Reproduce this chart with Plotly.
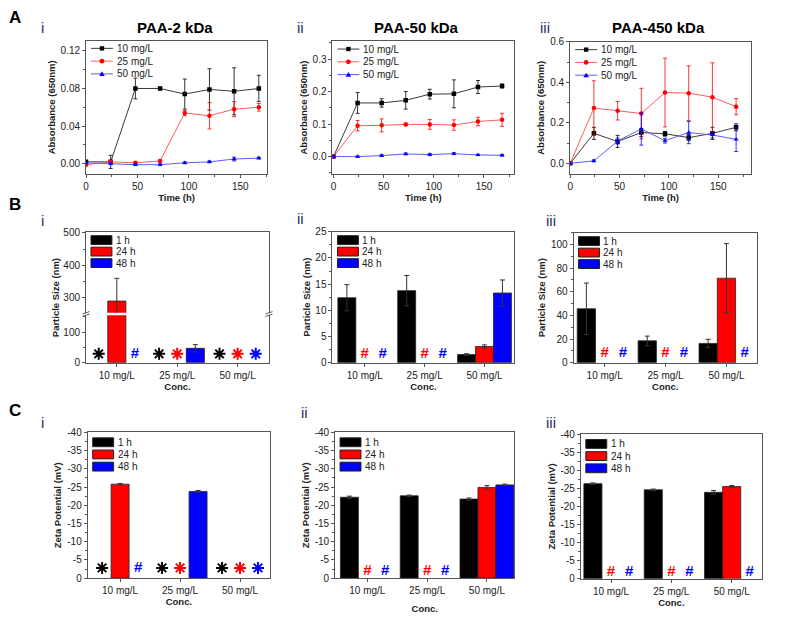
import plotly.graph_objects as go

# ---------------- data ----------------
hours = [0, 24, 48, 72, 96, 120, 144, 168]
conc = ['10 mg/L', '25 mg/L', '50 mg/L']
times = ['1 h', '24 h', '48 h']

# A: absorbance at 650 nm
abs_2k_10 = [0.002, 0.002, 0.080, 0.080, 0.074, 0.079, 0.077, 0.080]
abs_2k_10_err = [0.001, 0.007, 0.011, 0.001, 0.016, 0.022, 0.025, 0.014]
abs_2k_25 = [-0.001, 0.002, 0.001, 0.003, 0.054, 0.051, 0.058, 0.060]
abs_2k_25_err = [0.001, 0.001, 0.001, 0.001, 0.003, 0.014, 0.008, 0.004]
abs_2k_50 = [0.001, 0.000, -0.001, -0.001, 0.001, 0.002, 0.005, 0.006]
abs_2k_50_err = [0.001, 0.001, 0.001, 0.001, 0.001, 0.001, 0.002, 0.001]

abs_50k_10 = [0.0, 0.165, 0.165, 0.173, 0.192, 0.193, 0.214, 0.217]
abs_50k_10_err = [0.003, 0.032, 0.013, 0.027, 0.015, 0.043, 0.020, 0.006]
abs_50k_25 = [0.0, 0.095, 0.096, 0.099, 0.099, 0.097, 0.108, 0.113]
abs_50k_25_err = [0.002, 0.016, 0.020, 0.004, 0.015, 0.016, 0.013, 0.020]
abs_50k_50 = [0.0, 0.0, 0.003, 0.008, 0.006, 0.009, 0.005, 0.004]
abs_50k_50_err = [0.002, 0.002, 0.003, 0.003, 0.003, 0.003, 0.002, 0.002]

abs_450k_10 = [0.0, 0.148, 0.108, 0.152, 0.146, 0.127, 0.148, 0.178]
abs_450k_10_err = [0.005, 0.030, 0.030, 0.020, 0.012, 0.015, 0.030, 0.017]
abs_450k_25 = [0.0, 0.273, 0.260, 0.246, 0.350, 0.347, 0.327, 0.280]
abs_450k_25_err = [0.005, 0.135, 0.046, 0.125, 0.170, 0.135, 0.170, 0.040]
abs_450k_50 = [0.0, 0.012, 0.110, 0.170, 0.112, 0.152, 0.140, 0.118]
abs_450k_50_err = [0.003, 0.005, 0.015, 0.080, 0.012, 0.055, 0.015, 0.060]

# B: particle size (rows = 1 h, 24 h, 48 h; columns = conc)
size_2k = [[None, None, None], [290, None, None], [None, 47, None]]
size_2k_err = [[0, 0, 0], [70, 0, 0], [0, 12, 0]]
size_2k_sig = [['*', '*', '*'], ['', '*', '*'], ['#', '', '*']]

size_50k = [[12.4, 13.75, 1.56], [None, None, 3.1], [None, None, 13.3]]
size_50k_err = [[2.5, 2.9, 0.15], [0, 0, 0.3], [0, 0, 2.5]]
size_50k_sig = [['', '', ''], ['#', '#', ''], ['#', '#', '']]

size_450k = [[45.6, 18.5, 16.3], [None, None, 71.5], [None, None, None]]
size_450k_err = [[21.8, 4.0, 3.5], [0, 0, 29.3], [0, 0, 0]]
size_450k_sig = [['', '', ''], ['#', '#', ''], ['#', '#', '#']]

# C: zeta potential
zeta_2k = [[None, None, None], [-25.8, None, None], [None, -23.8, None]]
zeta_2k_err = [[0, 0, 0], [0.2, 0, 0], [0, 0.25, 0]]
zeta_2k_sig = [['*', '*', '*'], ['', '*', '*'], ['#', '', '*']]

zeta_50k = [[-22.2, -22.6, -21.7], [None, None, -24.9], [None, None, -25.6]]
zeta_50k_err = [[0.3, 0.2, 0.3], [0, 0, 0.5], [0, 0, 0.2]]
zeta_50k_sig = [['', '', ''], ['#', '#', ''], ['#', '#', '']]

zeta_450k = [[-26.3, -24.6, -23.9], [None, None, -25.5], [None, None, None]]
zeta_450k_err = [[0.2, 0.2, 0.5], [0, 0, 0.3], [0, 0, 0]]
zeta_450k_sig = [['', '', ''], ['#', '#', ''], ['#', '#', '#']]

# ---------------- style ----------------
W, H = 800, 621
OFF = 8  # page body margin
FONT = 'Arial, Liberation Sans, sans-serif'
AX = '#555555'
ser_colors = ['#000000', '#ff0000', '#0000ff']
line_colors = ['#3a3a3a', '#ff5c5c', '#5c5cff']
symbols = ['square', 'circle', 'triangle-up']
BAR_W = 0.3


def fx(x):
    return (x - OFF) / W


def fy(y):
    return 1 - (y - OFF) / H


def key(a, n):
    return a + 'axis' + ('' if n == 1 else str(n))


def ref(a, n):
    return a + ('' if n == 1 else str(n))


fig = go.Figure()
shapes, notes = [], []


def text(x, y, s, size=10, bold=False, color='#222', xanchor='left', angle=0):
    notes.append(dict(x=fx(x), y=fy(y), xref='paper', yref='paper',
                      text='<b>%s</b>' % s if bold else s, showarrow=False,
                      xanchor=xanchor, yanchor='middle', textangle=angle,
                      font=dict(family=FONT, size=size, color=color)))


def axis(domain, rng, **kw):
    d = dict(domain=domain, range=rng, showline=True, linecolor=AX, linewidth=1,
             mirror=True, ticks='outside', ticklen=3, tickwidth=1, tickcolor=AX,
             showgrid=False, zeroline=False,
             tickfont=dict(family=FONT, size=10, color='#222'))
    d.update(kw)
    return d


def minor(dt):
    return dict(ticks='outside', ticklen=2, dtick=dt, tick0=0, tickcolor=AX)


def ytitle(s, standoff=3):
    return dict(text='<b>%s</b>' % s, font=dict(size=9.5), standoff=standoff)


def line_legend(L, T):
    for i, name in enumerate(conc):
        y = T + i * 13
        c = ser_colors[i]
        shapes.append(dict(type='line', xref='paper', yref='paper', x0=fx(L + 5), x1=fx(L + 27),
                           y0=fy(y), y1=fy(y), line=dict(color=line_colors[i], width=1)))
        cx = L + 16
        if symbols[i] == 'square':
            shapes.append(dict(type='rect', xref='paper', yref='paper', x0=fx(cx - 2.2), x1=fx(cx + 2.2),
                               y0=fy(y + 2.2), y1=fy(y - 2.2), fillcolor=c, line=dict(width=0)))
        elif symbols[i] == 'circle':
            shapes.append(dict(type='circle', xref='paper', yref='paper', x0=fx(cx - 2.4), x1=fx(cx + 2.4),
                               y0=fy(y + 2.4), y1=fy(y - 2.4), fillcolor=c, line=dict(width=0)))
        else:
            shapes.append(dict(type='path', xref='paper', yref='paper', fillcolor=c, line=dict(width=0),
                               path='M %f,%f L %f,%f L %f,%f Z' % (fx(cx - 2.8), fy(y + 2.2), fx(cx + 2.8),
                                                                  fy(y + 2.2), fx(cx), fy(y - 2.6))))
        text(L + 29, y, name)


def bar_legend(L, T, gap):
    for i, name in enumerate(times):
        y = T + i * gap
        shapes.append(dict(type='rect', xref='paper', yref='paper', x0=fx(L + 5), x1=fx(L + 26),
                           y0=fy(y + 4.5), y1=fy(y - 4.5), fillcolor=ser_colors[i],
                           line=dict(color='#222', width=1)))
        text(L + 28, y, name)


def line_panel(n, ys, errs, box, xr, yr, dtick, fmt):
    L, R, T, B = box
    for i in range(3):
        fig.add_trace(go.Scatter(
            x=hours, y=ys[i], mode='lines+markers', name=conc[i],
            line=dict(color=line_colors[i], width=1),
            marker=dict(symbol=symbols[i], size=4.5, color=ser_colors[i]),
            error_y=dict(type='data', array=errs[i], color=ser_colors[i], thickness=0.8, width=2),
            xaxis=ref('x', n), yaxis=ref('y', n)))
    fig.update_layout({
        key('x', n): axis([fx(L), fx(R)], xr, anchor=ref('y', n), dtick=50, tick0=0, minor=minor(25),
                          title=dict(text='<b>Time (h)</b>', font=dict(size=9.5), standoff=0)),
        key('y', n): axis([fy(B), fy(T)], yr, anchor=ref('x', n), dtick=dtick, tick0=0,
                          tickformat=fmt, minor=minor(dtick / 2), title=ytitle('Absorbance (650nm)')),
    })
    line_legend(L, T + 8)


def bars(n, vals, errs, xa=None, ya=None):
    for i in range(3):
        fig.add_trace(go.Bar(
            x=[0, 1, 2], y=vals[i], name=times[i],
            marker=dict(color=ser_colors[i], line=dict(color='#222', width=0.8)),
            error_y=dict(type='data', array=errs[i], color='#333', thickness=1, width=2.5),
            xaxis=xa or ref('x', n), yaxis=ya or ref('y', n)))


def marks(n, sigs, y):
    for i in range(3):
        for sym in ('*', '#'):
            xs = [j + (i - 1) * BAR_W for j in range(3) if sigs[i][j] == sym]
            if not xs:
                continue
            if sym == '*':
                fig.add_trace(go.Scatter(
                    x=xs, y=[y] * len(xs), mode='markers',
                    marker=dict(symbol='asterisk-open', size=10, color=ser_colors[i],
                                line=dict(width=2, color=ser_colors[i])),
                    xaxis=ref('x', n), yaxis=ref('y', n)))
            else:
                fig.add_trace(go.Scatter(
                    x=xs, y=[y] * len(xs), mode='text', text=['<b>#</b>'] * len(xs),
                    textfont=dict(family=FONT, size=15, color=ser_colors[i]),
                    xaxis=ref('x', n), yaxis=ref('y', n)))


def bar_panel(n, vals, errs, sigs, box, xr, yr, dtick, mdt, mark_y, title, zeta=False, conc_standoff=2):
    L, R, T, B = box
    bars(n, vals, errs)
    marks(n, sigs, mark_y)
    yax = dict(anchor=ref('x', n), minor=minor(mdt), title=ytitle(title))
    if zeta:
        tv = list(range(0, -45, -5))
        yax.update(tickvals=tv, ticktext=[str(v) for v in tv])
    else:
        yax.update(dtick=dtick, tick0=0)
    fig.update_layout({
        key('x', n): axis([fx(L), fx(R)], xr, anchor=ref('y', n), tickvals=[0, 1, 2], ticktext=conc,
                          title=dict(text='<b>Conc.</b>', font=dict(size=9.5), standoff=conc_standoff)),
        key('y', n): axis([fy(B), fy(T)], yr, **yax),
    })
    bar_legend(L, T + (8.5 if not zeta else 10), 11.7 if not zeta else 12.4)


# ---------------- row A ----------------
line_panel(1, [abs_2k_10, abs_2k_25, abs_2k_50], [abs_2k_10_err, abs_2k_25_err, abs_2k_50_err],
           (83.3, 265, 36, 172), [0, 176], [-0.011, 0.131], 0.04, '.2f')
line_panel(2, [abs_50k_10, abs_50k_25, abs_50k_50], [abs_50k_10_err, abs_50k_25_err, abs_50k_50_err],
           (330.7, 513, 36.7, 171.7), [-1, 180], [-0.053, 0.355], 0.1, '.1f')
line_panel(3, [abs_450k_10, abs_450k_25, abs_450k_50], [abs_450k_10_err, abs_450k_25_err, abs_450k_50_err],
           (569.3, 750.7, 37.3, 171.7), [0, 183], [-0.052, 0.601], 0.2, '.1f')

# ---------------- row B ----------------
# B i with a broken y axis: lower part y4, upper part y10
L, R, T, B = 83.3, 267, 230.7, 364
lo_top, hi_bot = 315.7, 313.2
bars(4, size_2k, size_2k_err)
bars(4, size_2k, size_2k_err, xa='x10', ya='y10')
marks(4, size_2k_sig, 28.9)
fig.update_layout(
    xaxis4=axis([fx(L), fx(R)], [-0.51, 2.52], anchor='y4', mirror=False, tickvals=[0, 1, 2], ticktext=conc,
                title=dict(text='<b>Conc.</b>', font=dict(size=9.5), standoff=2)),
    yaxis4=axis([fy(B), fy(lo_top)], [0, 155], anchor='x4', tickvals=[0, 100], minor=minor(50)),
    xaxis10=axis([fx(L), fx(R)], [-0.51, 2.52], anchor='y10', matches='x4', side='top', ticks='',
                 showticklabels=False, mirror=False),
    yaxis10=axis([fy(hi_bot), fy(T)], [254, 503], anchor='x10', tickvals=[300, 400, 500], minor=minor(50)),
)
for xb in (L, R):
    for yb in (hi_bot, lo_top):
        shapes.append(dict(type='line', xref='paper', yref='paper', x0=fx(xb - 3.5), x1=fx(xb + 3.5),
                           y0=fy(yb + 1.2), y1=fy(yb - 1.2), line=dict(color=AX, width=1)))
text(53, 297.5, 'Particle Size (nm)', size=9.5, bold=True, xanchor='center', angle=-90)
bar_legend(L, T + 8.5, 11.7)

bar_panel(5, size_50k, size_50k_err, size_50k_sig, (330.7, 513.3, 230.7, 364), [-0.54, 2.5],
          [0, 25], 5, 2.5, 1.7, 'Particle Size (nm)')
bar_panel(6, size_450k, size_450k_err, size_450k_sig, (572.7, 756.7, 231.7, 364), [-0.51, 2.5],
          [0, 110], 20, 10, 8.3, 'Particle Size (nm)')

# ---------------- row C ----------------
bar_panel(7, zeta_2k, zeta_2k_err, zeta_2k_sig, (85, 268, 435, 583.3), [-0.54, 2.5],
          [0, -40], 5, 2.5, -2.8, 'Zeta Potential (mV)', zeta=True)
bar_panel(8, zeta_50k, zeta_50k_err, zeta_50k_sig, (333.3, 513.3, 435, 583.3), [-0.54, 2.46],
          [0, -40], 5, 2.5, -2.0, 'Zeta Potential (mV)', zeta=True, conc_standoff=10)
bar_panel(9, zeta_450k, zeta_450k_err, zeta_450k_sig, (580, 761.7, 436.7, 584), [-0.5, 2.5],
          [0, -40], 5, 2.5, -1.7, 'Zeta Potential (mV)', zeta=True)

# ---------------- labels ----------------
for s, y in (('A', 13), ('B', 203), ('C', 413)):
    text(4, y, s, size=17, bold=True, color='#000')
roman = [('i', 36, 23), ('ii', 293, 23), ('iii', 537, 23),
         ('i', 36, 219), ('ii', 293, 217), ('iii', 543, 219),
         ('i', 36, 425), ('ii', 297, 415), ('iii', 543, 425)]
for s, x, y in roman:
    text(x, y, s, size=15, color='#1f2f5f')
for s, x in (('PAA-2 kDa', 173), ('PAA-50 kDa', 415), ('PAA-450 kDa', 658)):
    text(x, 23, s, size=15, bold=True, color='#000', xanchor='center')

fig.update_layout(
    width=W, height=H, margin=dict(l=0, r=0, t=0, b=0),
    plot_bgcolor='white', paper_bgcolor='white',
    barmode='group', bargap=0.1, bargroupgap=0, showlegend=False,
    font=dict(family=FONT, color='#222'),
    shapes=shapes, annotations=notes,
)

fig.write_html("out.html")
